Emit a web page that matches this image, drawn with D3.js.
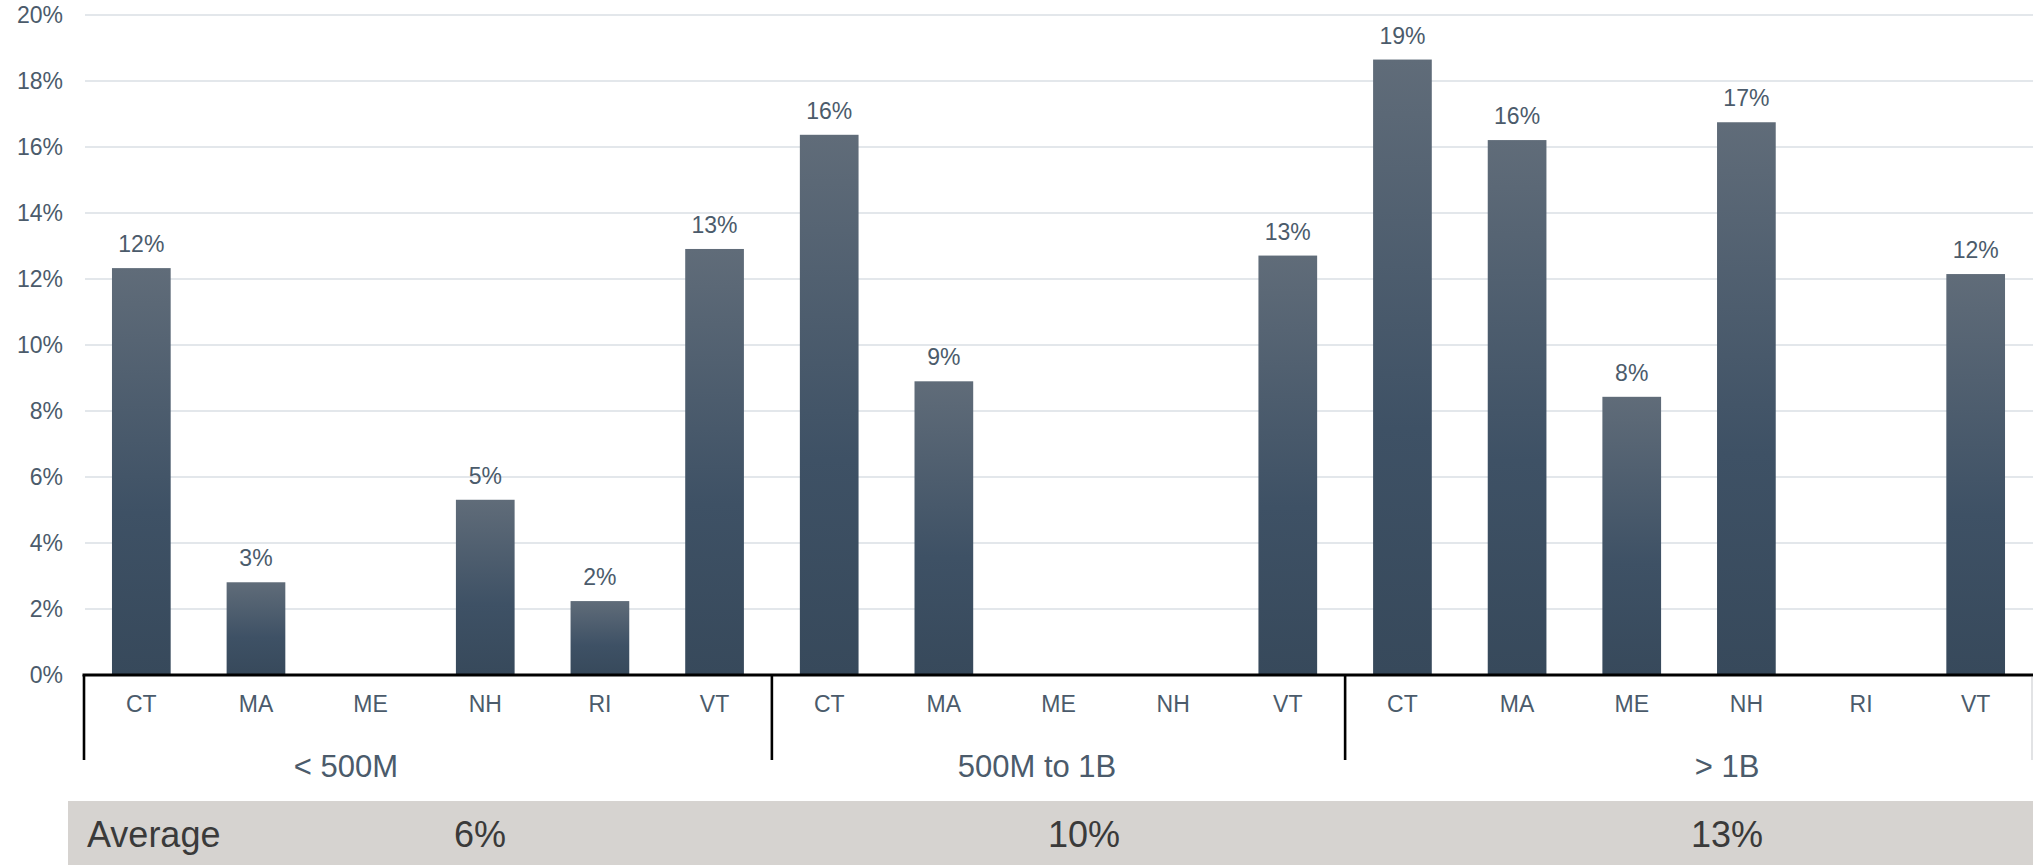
<!DOCTYPE html>
<html>
<head>
<meta charset="utf-8">
<script src="https://cdn.jsdelivr.net/npm/d3@7"></script>
<style>
  html, body { margin: 0; padding: 0; background: #ffffff; }
  svg { display: block; font-family: "Liberation Sans", Arial, sans-serif; }
</style>
</head>
<body>
<svg id="chart" width="2033" height="865"></svg>
<script>
// Asset-size groups and the states reported in each
const groups = ["< 500M", "500M to 1B", "> 1B"];
const statesSmall = ["CT", "MA", "ME", "NH", "RI", "VT"];
const statesMid = ["CT", "MA", "ME", "NH", "VT"];
const statesLarge = ["CT", "MA", "ME", "NH", "RI", "VT"];

// Percent values per state (null = no value)
const valuesSmall = [12.33, 2.81, null, 5.31, 2.24, 12.91];
const valuesMid = [16.37, 8.90, null, null, 12.71];
const valuesLarge = [18.65, 16.21, 8.43, 16.75, null, 12.15];

// Group averages (percent)
const averages = [6, 10, 13];

// Y axis ticks (percent)
const yTicks = [0, 2, 4, 6, 8, 10, 12, 14, 16, 18, 20];

// ---- layout ----
const W = 2033, H = 865;
const left = 84, right = 2033;
const yTop = 15, yBase = 675;
const groupLabelX = [346, 1037, 1727];
const avgLabelX = [480, 1084, 1727];
const textColor = "#4b5b6b";

const groupStates = [statesSmall, statesMid, statesLarge];
const groupValues = [valuesSmall, valuesMid, valuesLarge];

const rows = [];
groups.forEach((g, gi) => {
  groupStates[gi].forEach((s, si) => {
    rows.push({ key: g + "|" + s, group: g, gi, state: s, value: groupValues[gi][si] });
  });
});

const svg = d3.select("#chart");

const defs = svg.append("defs");
const grad = defs.append("linearGradient")
  .attr("id", "barGrad")
  .attr("x1", 0).attr("y1", 0).attr("x2", 0).attr("y2", 1);
grad.append("stop").attr("offset", "0%").attr("stop-color", "#606c79");
grad.append("stop").attr("offset", "60%").attr("stop-color", "#3e5165");
grad.append("stop").attr("offset", "100%").attr("stop-color", "#37495b");

const x = d3.scaleBand()
  .domain(rows.map(d => d.key))
  .range([left, right])
  .paddingInner(0.488)
  .paddingOuter(0.244);

const y = d3.scaleLinear().domain([0, 20]).range([yBase, yTop]);

// grid lines
svg.append("g")
  .selectAll("line")
  .data(yTicks)
  .join("line")
  .attr("x1", left + 1)
  .attr("x2", right)
  .attr("y1", d => y(d))
  .attr("y2", d => y(d))
  .attr("stroke", "#e3e7eb")
  .attr("stroke-width", 1.8);

// y axis labels
const yAxis = d3.axisLeft(y)
  .tickValues(yTicks)
  .tickFormat(d => d + "%")
  .tickSize(0)
  .tickPadding(0);
const yg = svg.append("g")
  .attr("transform", `translate(${left - 21},0)`)
  .call(yAxis);
yg.select(".domain").remove();
yg.selectAll("text")
  .attr("fill", textColor)
  .style("font-size", "23px")
  .style("font-family", '"Liberation Sans", Arial, sans-serif');

// bars
const barRows = rows.filter(d => d.value != null);
svg.append("g")
  .selectAll("rect")
  .data(barRows)
  .join("rect")
  .attr("x", d => x(d.key))
  .attr("width", x.bandwidth())
  .attr("y", d => y(d.value))
  .attr("height", d => y(0) - y(d.value))
  .attr("fill", "url(#barGrad)");

// value labels
svg.append("g")
  .selectAll("text")
  .data(barRows)
  .join("text")
  .attr("x", d => x(d.key) + x.bandwidth() / 2)
  .attr("y", d => y(d.value) - 16)
  .attr("text-anchor", "middle")
  .attr("fill", textColor)
  .style("font-size", "23px")
  .text(d => Math.round(d.value) + "%");

// category axis
const xAxis = d3.axisBottom(x)
  .tickFormat(k => k.split("|")[1])
  .tickSize(0)
  .tickPadding(0);
const xg = svg.append("g")
  .attr("transform", `translate(0,${yBase})`)
  .call(xAxis);
xg.select(".domain").remove();
xg.selectAll("text")
  .attr("dy", null)
  .attr("y", 37)
  .attr("fill", textColor)
  .style("font-size", "23px")
  .style("font-family", '"Liberation Sans", Arial, sans-serif');

// baseline
svg.append("line")
  .attr("x1", left - 1.5).attr("x2", right)
  .attr("y1", yBase).attr("y2", yBase)
  .attr("stroke", "#000").attr("stroke-width", 3);

// group separators
const step = x.step();
const boundaries = [];
let acc = 0;
boundaries.push(left);
groupStates.forEach(s => { acc += s.length; boundaries.push(left + acc * step); });
svg.append("g")
  .selectAll("line")
  .data(boundaries.slice(0, 3))
  .join("line")
  .attr("x1", d => d).attr("x2", d => d)
  .attr("y1", yBase).attr("y2", 760)
  .attr("stroke", "#000").attr("stroke-width", 2.6);
svg.append("line")
  .attr("x1", right - 1).attr("x2", right - 1)
  .attr("y1", yBase + 2).attr("y2", 760)
  .attr("stroke", "#d8dadc").attr("stroke-width", 1.5);

// group labels
svg.append("g")
  .selectAll("text")
  .data(groups)
  .join("text")
  .attr("x", (d, i) => groupLabelX[i])
  .attr("y", 777)
  .attr("text-anchor", "middle")
  .attr("fill", textColor)
  .style("font-size", "31px")
  .text(d => d);

// average band
svg.append("rect")
  .attr("x", 68).attr("y", 801)
  .attr("width", W - 68).attr("height", H - 801)
  .attr("fill", "#d6d3d0");
svg.append("text")
  .attr("x", 87).attr("y", 847)
  .attr("fill", "#3a3a3a")
  .style("font-size", "36px")
  .text("Average");
svg.append("g")
  .selectAll("text")
  .data(averages)
  .join("text")
  .attr("x", (d, i) => avgLabelX[i])
  .attr("y", 847)
  .attr("text-anchor", "middle")
  .attr("fill", "#3a3a3a")
  .style("font-size", "36px")
  .text(d => d + "%");
</script>
</body>
</html>
